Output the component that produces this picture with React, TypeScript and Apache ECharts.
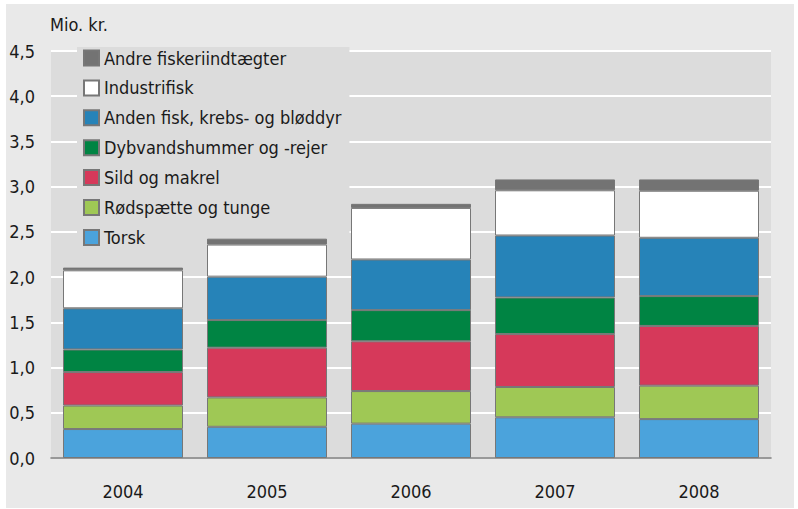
import React, { useEffect, useRef } from "react";
import * as echarts from "echarts";

const years = ["2004", "2005", "2006", "2007", "2008"];
const torsk = [0.32, 0.345, 0.38, 0.45, 0.43];
const roedspaette = [0.26, 0.325, 0.36, 0.335, 0.37];
const sildMakrel = [0.37, 0.55, 0.55, 0.585, 0.66];
const dybvand = [0.25, 0.305, 0.345, 0.405, 0.33];
const andenFisk = [0.455, 0.48, 0.56, 0.685, 0.645];
const industrifisk = [0.42, 0.355, 0.57, 0.5, 0.52];
const andre = [0.03, 0.065, 0.045, 0.12, 0.125];
const yTicks = [0, 0.5, 1, 1.5, 2, 2.5, 3, 3.5, 4, 4.5];

const FONT = "'DejaVu Sans Condensed', 'Liberation Sans', sans-serif";
const TXT = "#1a1a1a";

const seriesDefs = [
  { name: "Torsk", data: torsk, color: "#4ba3dc" },
  { name: "Rødspætte og tunge", data: roedspaette, color: "#9fc855" },
  { name: "Sild og makrel", data: sildMakrel, color: "#d6395a" },
  { name: "Dybvandshummer og -rejer", data: dybvand, color: "#008443" },
  { name: "Anden fisk, krebs- og bløddyr", data: andenFisk, color: "#2683b8" },
  { name: "Industrifisk", data: industrifisk, color: "#ffffff" },
  { name: "Andre fiskeriindtægter", data: andre, color: "#737373" },
];

export default function App() {
  const ref = useRef<HTMLDivElement>(null);
  useEffect(() => {
    if (!ref.current) return;
    const chart = echarts.init(ref.current, undefined, { renderer: "svg" });
    chart.setOption({
      animation: false,
      textStyle: { fontFamily: FONT, color: TXT },
      grid: {
        left: 51,
        right: 27,
        top: 51,
        bottom: 51,
        show: true,
        backgroundColor: "#dcdcdc",
        borderWidth: 0,
      },
      graphic: [
        {
          type: "text",
          left: 50,
          top: 15,
          style: { text: "Mio. kr.", font: `18px ${FONT}`, fill: TXT },
        },
      ],
      legend: {
        orient: "vertical",
        left: 77,
        top: 47,
        z: 1,
        padding: [2, 8, 5, 6],
        backgroundColor: "#dcdcdc",
        itemWidth: 15,
        itemHeight: 15,
        itemGap: 11.9,
        icon: "rect",
        data: seriesDefs.map((s) => s.name).reverse(),
        textStyle: { fontFamily: FONT, fontSize: 18, color: TXT },
      },
      xAxis: {
        type: "category",
        data: years,
        axisLine: { show: true, lineStyle: { color: "#777777", width: 1.5 } },
        axisTick: { show: false },
        axisLabel: { margin: 24, fontSize: 18, color: TXT, fontFamily: FONT },
        splitLine: { show: false },
      },
      yAxis: {
        type: "value",
        min: 0,
        max: yTicks[yTicks.length - 1],
        interval: yTicks[1] - yTicks[0],
        axisLine: { show: false },
        axisTick: { show: false },
        axisLabel: {
          margin: 16,
          fontSize: 18,
          color: TXT,
          fontFamily: FONT,
          formatter: (v: number) => v.toFixed(1).replace(".", ","),
        },
        splitLine: { show: true, lineStyle: { color: "#ffffff", width: 2 } },
      },
      series: seriesDefs.map((s) => ({
        name: s.name,
        type: "bar",
        stack: "total",
        z: 3,
        data: s.data,
        barWidth: 120,
        itemStyle: { color: s.color, borderColor: "#777777", borderWidth: 1 },
      })),
    });
    return () => chart.dispose();
  }, []);
  return (
    <div style={{ position: "absolute", left: 0, top: 0, width: 798, height: 509, background: "#ffffff" }}>
      <div style={{ position: "absolute", left: 6, top: 4, width: 788, height: 504, background: "#e9e9e9" }} />
      <div ref={ref} style={{ position: "absolute", left: 0, top: 0, width: 798, height: 509 }} />
    </div>
  );
}
